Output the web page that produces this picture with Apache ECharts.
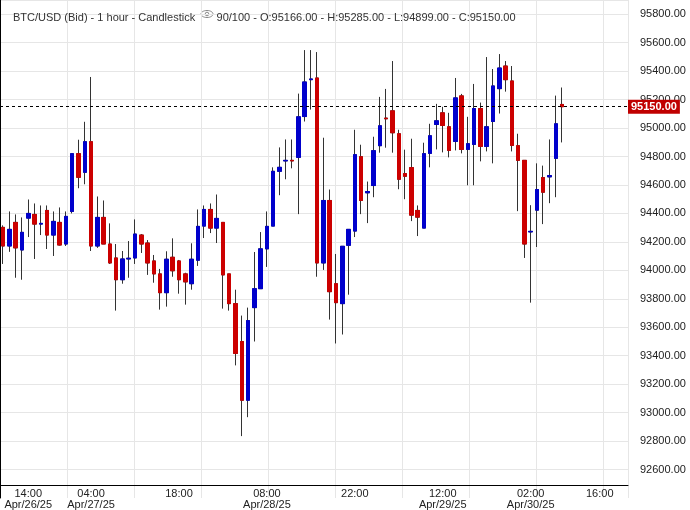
<!DOCTYPE html>
<html><head><meta charset="utf-8">
<script src="https://cdn.jsdelivr.net/npm/echarts@6/dist/echarts.min.js"></script>
<style>html,body{margin:0;padding:0;background:#fff}#c{width:690px;height:510px}</style>
</head><body><div id="c"></div>
<script>
var opens = [94302,94171,94337,94143,94367,94393,94325,94421,94248,94337,94185,94414,94820,94689,94904,94171,94372,94185,94087,93934,
94080,94087,94248,94192,94066,93975,93843,94092,94066,93975,93906,94071,94311,94428,94297,94337,93975,93766,93500,93087,
93738,93871,94151,94311,94696,94769,94773,94794,95081,95340,95352,94052,94491,93906,93766,94176,94276,94799,94545,94596,
94876,95070,95121,94960,94680,94722,94421,94297,94822,95025,95107,95009,94906,95226,94850,94885,95137,94871,95046,95277,
95436,95331,94876,94773,94270,94423,94652,94657,94787,95166];
var closes = [94171,94288,94158,94267,94400,94325,94330,94248,94344,94178,94379,94820,94654,94904,94171,94372,94185,94052,93934,94080,
94085,94255,94185,94052,93975,93843,94078,93997,93934,93919,94078,94309,94428,94297,94365,93968,93766,93416,93087,93647,
93871,94151,94309,94696,94724,94773,94769,95079,95324,95345,94052,94491,93850,93773,94169,94288,94813,94491,94554,94841,
95016,95065,94967,94640,94661,94388,94374,94820,94946,95051,95018,94843,95212,94850,94890,95137,94871,95009,95296,95422,
95340,94878,94773,94185,94274,94568,94549,94666,95030,95150];
var highs = [94316,94414,94393,94372,94498,94470,94456,94456,94414,94442,94414,94820,94918,95044,95359,94519,94491,94330,94185,94136,
94206,94358,94255,94213,94108,94010,94134,94225,94073,93983,94190,94428,94456,94470,94533,94337,93975,93864,93682,93738,
94129,94269,94414,94724,94864,94920,94920,95242,95548,95548,95534,94932,94568,94115,94169,94288,94988,94883,94624,94939,
95219,95275,95471,94988,94848,94925,94456,94897,95030,95170,95149,95107,95352,95240,95079,95310,95179,95499,95415,95520,
95471,95436,94960,94773,94458,94752,94736,94920,95228,95285];
var lows = [94045,94130,93948,93934,94234,94080,94248,94150,94101,94174,94171,94400,94577,94605,94136,94158,94185,94045,93717,93906,
93948,94045,94122,93968,93913,93724,93745,93955,93836,93759,93864,94031,94227,94262,94192,93731,93717,93332,92835,92968,
93500,93871,94024,94311,94528,94640,94717,94395,95046,95130,93955,94003,93654,93486,93549,93829,94234,94395,94332,94514,
94827,94862,94827,94570,94500,94346,94241,94297,94724,94850,94829,94794,94843,94822,94598,94598,94766,94836,94752,95102,
95256,94836,94416,94087,93773,94164,94325,94472,94514,94899];
var tickIdx = [4,14,28,42,56,70,84,95];
var tickText = ['14:00\nApr/26/25','04:00\nApr/27/25','18:00','08:00\nApr/28/25','22:00','12:00\nApr/29/25','02:00\nApr/30/25','16:00'];
var lastPrice = 95150;

var cats = [], labMap = {};
for (var i = 0; i < 100; i++) cats.push(String(i));
tickIdx.forEach(function(t, k){ labMap[t] = tickText[k]; });
var wick = [], body = [];
for (var j = 0; j < opens.length; j++) {
  wick.push([opens[j], closes[j], lows[j], highs[j]]);
  var lo = Math.min(opens[j], closes[j]), hi = Math.max(opens[j], closes[j]);
  body.push([opens[j], closes[j], lo, hi]);
}
var chart = echarts.init(document.getElementById('c'));
chart.setOption({
  animation: false,
  backgroundColor: '#fff',
  textStyle: {fontFamily: 'Liberation Sans, Arial, sans-serif'},
  title: {text: 'BTC/USD (Bid) - 1 hour - Candlestick       90/100 - O:95166.00 - H:95285.00 - L:94899.00 - C:95150.00',
    left: 8, top: 7, textStyle: {fontSize: 11, fontWeight: 'normal', color: '#333'}},
  graphic: [{type: 'ellipse', shape: {cx: 207, cy: 14, rx: 6, ry: 3.5}, style: {fill: 'none', stroke: '#888', lineWidth: 1}},
            {type: 'circle', shape: {cx: 207, cy: 14, r: 1.8}, style: {fill: 'none', stroke: '#888', lineWidth: 1}}],
  grid: {left: 0, right: 62, top: -1.5, bottom: 11},
  xAxis: [{
    type: 'category', data: cats, boundaryGap: true, offset: -13,
    axisLine: {lineStyle: {color: '#000'}}, axisTick: {show: false},
    axisLabel: {interval: 0, color: '#222', fontSize: 11, lineHeight: 11, margin: 3,
      formatter: function(v){ return labMap[v] || ''; }},
    splitLine: {show: false}
  }, {
    type: 'value', min: 0, max: 628, interval: 67, position: 'top', show: true,
    axisLine: {show: false}, axisTick: {show: false}, axisLabel: {show: false},
    splitLine: {show: true, lineStyle: {color: '#e6e6e6'}}
  }],
  yAxis: {
    type: 'value', position: 'right', min: 92400, max: 95900, interval: 200,
    axisLine: {show: true, lineStyle: {color: '#000'}}, axisTick: {show: false},
    axisLabel: {color: '#222', fontSize: 11, margin: 12,
      formatter: function(v){ return (v < 92500 || v > 95850) ? '' : v.toFixed(2); }},
    splitLine: {show: true, showMinLine: false, lineStyle: {color: '#e6e6e6'}}
  },
  series: [{
    type: 'candlestick', data: wick, barWidth: 4,
    itemStyle: {color: '#333', color0: '#333', borderColor: '#333', borderColor0: '#333', borderWidth: 1},
    markLine: {symbol: 'none', silent: true, data: [{yAxis: lastPrice}],
      lineStyle: {color: '#000', type: [3, 3], width: 1},
      label: {position: 'end', formatter: '95150.00', color: '#fff', fontWeight: 'bold', fontSize: 11,
        backgroundColor: '#c00000', padding: [2, 3, 1, 3], distance: 0}}
  }, {
    type: 'candlestick', data: body, barWidth: 4,
    itemStyle: {color: '#0000cc', color0: '#cc0000', borderColor: '#0000cc', borderColor0: '#cc0000', borderWidth: 1}
  }]
});
</script></body></html>
